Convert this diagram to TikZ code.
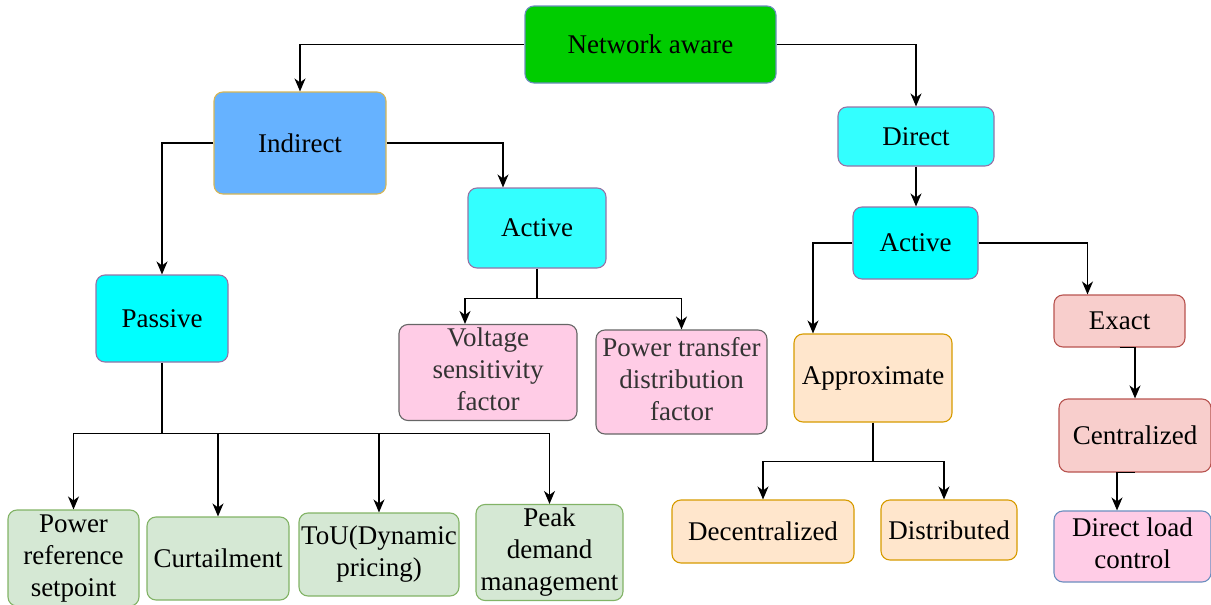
\documentclass[tikz,border=0pt]{standalone}
\usepackage{fontspec}
\setmainfont{Liberation Serif}
\usetikzlibrary{arrows.meta,calc}
\definecolor{cGreen}{HTML}{00CC00}
\definecolor{cBlueB}{HTML}{6C8EBF}
\definecolor{cInd}{HTML}{66B2FF}
\definecolor{cGold}{HTML}{D6B656}
\definecolor{cCyan}{HTML}{00FFFF}
\definecolor{cCyanL}{HTML}{33FFFF}
\definecolor{cPurp}{HTML}{9673A6}
\definecolor{cPink}{HTML}{FFCCE6}
\definecolor{cGrey}{HTML}{666666}
\definecolor{cOrF}{HTML}{FFE6CC}
\definecolor{cOrB}{HTML}{D79B00}
\definecolor{cRedF}{HTML}{F8CECC}
\definecolor{cRedB}{HTML}{B85450}
\definecolor{cGrF}{HTML}{D5E8D4}
\definecolor{cGrB}{HTML}{82B366}
\newcommand{\ml}[1]{\begin{tabular}{@{}c@{}}#1\end{tabular}}
\renewcommand{\arraystretch}{1.0}
\tikzset{
  box/.style={draw, rounded corners=9pt, line width=1.1pt, inner sep=0pt,
    font=\fontsize{27}{32}\selectfont},
  wh/.style n args={2}{minimum width=#1pt, minimum height=#2pt},
  greenbox/.style={box, fill=cGreen, draw=cBlueB},
  indbox/.style={box, fill=cInd, draw=cGold},
  cyanbox/.style={box, fill=cCyan, draw=cPurp},
  cyanlbox/.style={box, fill=cCyanL, draw=cPurp},
  pinkbox/.style={box, fill=cPink, draw=cGrey, text=black!80},
  orbox/.style={box, fill=cOrF, draw=cOrB},
  redbox/.style={box, fill=cRedF, draw=cRedB},
  dlcbox/.style={box, fill=cPink, draw=cBlueB},
  grbox/.style={box, fill=cGrF, draw=cGrB},
  conn/.style={draw, line width=1.4pt, -{Stealth[length=13pt,width=11pt,inset=4pt]}},
  plain/.style={draw, line width=1.4pt}
}
\begin{document}
\begin{tikzpicture}[x=1pt,y=-1pt]
\useasboundingbox (0,0) rectangle (1211,605);
% nodes
\node[greenbox, wh={251}{77}] (na) at (650.5,44.5) {Network aware};
\node[indbox, wh={172}{102}] (ind) at (300,143) {Indirect};
\node[cyanlbox, wh={156}{59}] (dir) at (916,136.5) {Direct};
\node[cyanlbox, wh={138}{80}] (actL) at (537,228) {Active};
\node[cyanbox, wh={125}{72}] (actR) at (915.5,243) {Active};
\node[cyanbox, wh={132}{87}] (pas) at (162,318.5) {Passive};
\node[pinkbox, wh={178}{91}] (vsf) at (488,372.5) {\ml{Voltage\\sensitivity\\factor}};
\node[pinkbox, wh={171}{104}] (ptdf) at (681.5,382) {\ml{Power transfer\\distribution\\factor}};
\node[orbox, wh={158}{88}] (appr) at (873,378) {Approximate};
\node[redbox, wh={131}{52}] (exact) at (1119.5,321) {Exact};
\node[redbox, wh={152}{73}] (cent) at (1135,435.5) {Centralized};
\node[dlcbox, wh={157}{71}] (dlc) at (1132.5,546.5) {\ml{Direct load\\control}};
\node[orbox, wh={182}{63}] (dec) at (763,531.5) {Decentralized};
\node[orbox, wh={136}{60}] (dist) at (949,530) {Distributed};
\node[grbox, wh={131}{94}] (prs) at (73.5,558) {\ml{Power\\reference\\setpoint}};
\node[grbox, wh={142}{83}] (curt) at (218,558.5) {Curtailment};
\node[grbox, wh={160}{83}] (tou) at (379,554.5) {\ml{ToU(Dynamic\\pricing)}};
\node[grbox, wh={147}{95}] (peak) at (549.5,552.5) {\ml{Peak\\demand\\management}};
% connectors
\draw[conn] (na.west) -| (ind.north);
\draw[conn] (na.east) -| (dir.north);
\draw[conn] (ind.west) -| (pas.north);
\draw[conn] (ind.east) -| ([xshift=-34pt]actL.north);
\draw[conn] (dir.south) -- (dir.south |- actR.north);
\draw[conn] (actR.west) -| ([xshift=-60pt]appr.north);
\draw[conn] (actR.east) -| ([xshift=-32pt]exact.north);
\draw[conn] (exact.south) -- (exact.south -| cent.north) -- (cent.north);
\coordinate (c1) at ([xshift=-18pt]cent.south);
\draw[conn] (cent.south) -- (c1) -- (c1 |- dlc.north);
% approximate branch
\coordinate (j1) at ([yshift=-39pt]appr.south);
\draw[plain] (appr.south) -- (j1);
\draw[conn] (j1) -| (dec.north);
\draw[conn] (j1) -| ([xshift=-5pt]dist.north);
% active left branch
\coordinate (j2) at ([yshift=-30pt]actL.south);
\draw[plain] (actL.south) -- (j2);
\draw[conn] (j2) -| ([xshift=-23pt]vsf.north);
\draw[conn] (j2) -| (ptdf.north);
% passive branch
\coordinate (j3) at ([yshift=-71pt]pas.south);
\draw[plain] (pas.south) -- (j3);
\draw[conn] (j3) -| (prs.north);
\draw[conn] (j3) -| (curt.north);
\draw[conn] (j3) -| (tou.north);
\draw[conn] (j3) -| (peak.north);
\end{tikzpicture}
\end{document}
